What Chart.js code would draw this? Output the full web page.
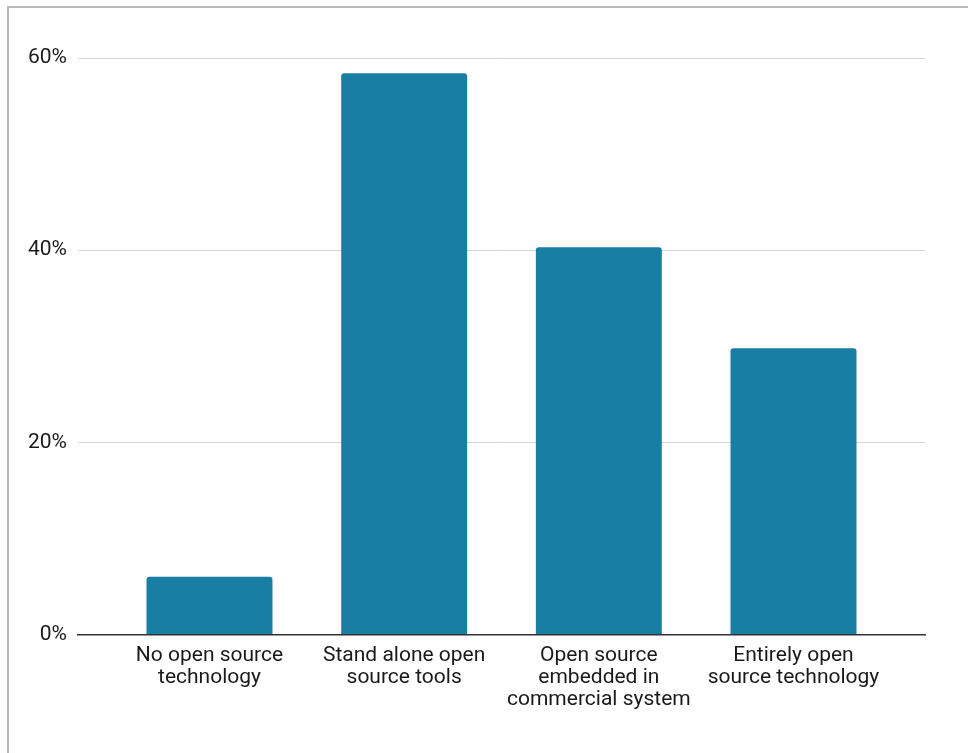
<!DOCTYPE html>
<html>
<head>
<meta charset="utf-8">
<script src="https://cdn.jsdelivr.net/npm/chart.js@4/dist/chart.umd.min.js"></script>
<style>
  html, body { margin: 0; padding: 0; background: #fff; width: 968px; height: 753px; overflow: hidden; }
  #frame { position: absolute; left: 7px; top: 6px; width: 1000px; height: 800px; border-left: 2px solid #b9b9b9; border-top: 2px solid #b9b9b9; }
  #c { position: absolute; left: 0; top: 0; }
</style>
</head>
<body>
<div id="frame"></div>
<canvas id="c" width="968" height="753"></canvas>
<script>
const categories = [
  ["No open source", "technology"],
  ["Stand alone open", "source tools"],
  ["Open source", "embedded in", "commercial system"],
  ["Entirely open", "source technology"]
];
const values = [6.0, 58.4, 40.3, 29.8];
const yTicks = [0, 20, 40, 60];

const barColor = "#187ea4";
const font = { family: "Roboto, 'Noto Sans', sans-serif", size: 21, lineHeight: 1.05 };

new Chart(document.getElementById('c'), {
  type: 'bar',
  data: {
    datasets: [{
      data: values.map((v, i) => ({ x: i, y: v })),
      backgroundColor: barColor,
      borderRadius: 3,
      borderSkipped: 'start',
      barPercentage: 0.647,
      categoryPercentage: 1.0
    }]
  },
  options: {
    responsive: false,
    animation: false,
    devicePixelRatio: 1,
    layout: { padding: { top: 58, right: 43, left: 0, bottom: 0 } },
    plugins: { legend: { display: false }, tooltip: { enabled: false } },
    scales: {
      x: {
        type: 'linear',
        offset: false,
        min: -0.6755,
        max: 3.6755,
        afterBuildTicks: (s) => { s.ticks = categories.map((_, i) => ({ value: i })); },
        afterFit: (s) => { s.height = 753 - 634.5; },
        grid: { display: false, drawTicks: false, offset: false },
        border: { display: true, color: '#333333', width: 1.5 },
        ticks: {
          callback: (v) => categories[v],
          color: '#1a1a1a',
          font: font,
          padding: 10,
          maxRotation: 0,
          autoSkip: false
        }
      },
      y: {
        min: 0,
        max: 60,
        afterBuildTicks: (s) => { s.ticks = yTicks.map(v => ({ value: v })); },
        afterFit: (s) => { s.width = 78; },
        grid: { color: '#d3d3d3', lineWidth: 1, drawTicks: false },
        border: { display: false },
        ticks: {
          callback: (v) => v + '%',
          color: '#1a1a1a',
          font: font,
          padding: 11
        }
      }
    }
  }
});
</script>
</body>
</html>
